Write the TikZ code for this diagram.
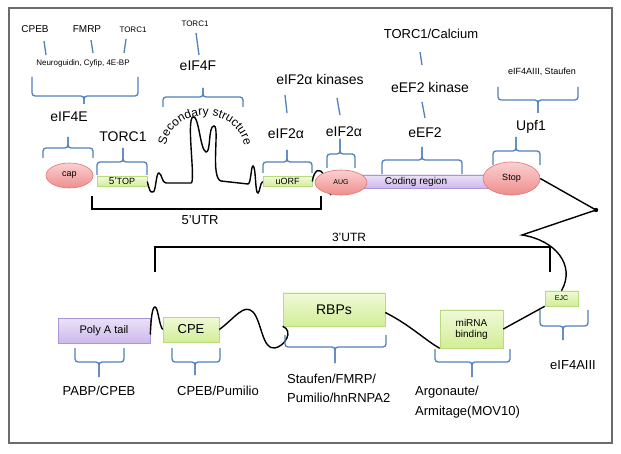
\documentclass[tikz,border=0pt]{standalone}
\usepackage{fontspec}
\setmainfont{Liberation Sans}
\usetikzlibrary{decorations.text,shapes.geometric}
\definecolor{bl}{HTML}{4F81BD}
\definecolor{gtop}{HTML}{F0F9D8}
\definecolor{gbot}{HTML}{D2EE96}
\definecolor{gdr}{HTML}{B9DA80}
\definecolor{ptop}{HTML}{EBE2F8}
\definecolor{pbot}{HTML}{CDB8EC}
\definecolor{pdr}{HTML}{AD95D9}
\definecolor{rtop}{HTML}{FBD0D0}
\definecolor{rbot}{HTML}{EE8E8E}
\definecolor{rdr}{HTML}{E07474}
\newcommand\fs[1]{\fontsize{#1}{#1}\selectfont}
\newcommand\mybrace[6]{%
  \draw[brace] (#1,#4) |- (#2,#5) -- (#2,#6);
  \draw[brace] (#3,#4) |- (#2,#5) -- (#2,#6);}
\begin{document}
\begin{tikzpicture}[x=1pt,y=-1pt,
  lbl/.style={inner sep=0pt},
  brace/.style={draw=bl,line width=1.3pt,rounded corners=3pt},
  tick/.style={draw=bl,line width=1.3pt},
  rna/.style={draw=black,line width=1.4pt},
  gbox/.style={draw=gdr,top color=gtop,bottom color=gbot,line width=0.6pt,inner sep=0pt},
  pbox/.style={draw=pdr,top color=ptop,bottom color=pbot,line width=0.6pt,inner sep=0pt},
  rell/.style={ellipse,draw=rdr,top color=rtop,bottom color=rbot,line width=0.6pt,inner sep=0pt}]
\useasboundingbox (0,0) rectangle (621,454);
\fill[white] (0,0) rectangle (621,454);
\draw[draw=gray!85!black,line width=1.2pt] (9,8) rectangle (612,443);

% ---------- top labels ----------
\node[lbl,font=\fs{10}] (cpeb) at (35,29) {CPEB};
\node[lbl,font=\fs{10}] (fmrp) at (87,29) {FMRP};
\node[lbl,font=\fs{8}] (torcA) at (133,30) {TORC1};
\node[lbl,font=\fs{8}] (neuro) at (83,63) {Neuroguidin, Cyfip, 4E-BP};
\draw[tick] (cpeb.center) ++(9,12) -- ++(2,14);
\draw[tick] (fmrp.center) ++(4,11) -- ++(2,13);
\draw[tick] (torcA.center) ++(-7,9) -- ++(-2,14);
\mybrace{32}{84}{138}{77}{96}{104}
\node[lbl,font=\fs{14}] (eif4e) at (69,117) {eIF4E};
\mybrace{43}{68}{93}{158}{148}{137}

\node[lbl,font=\fs{14}] (torcB) at (123,137) {TORC1};
\mybrace{97}{123}{147}{175}{162}{148}

\node[lbl,font=\fs{8}] (torcC) at (195,24) {TORC1};
\draw[tick] (torcC.center) ++(1,9) -- ++(3,22);
\node[lbl,font=\fs{14}] (eif4f) at (198,66) {eIF4F};
\mybrace{163}{203}{243}{107}{97}{88}

\node[lbl,font=\fs{14}] (kin) at (320,79) {eIF2α kinases};
\draw[tick] (kin.center) ++(-35,16) -- ++(2,18);
\draw[tick] (kin.center) ++(17,19) -- ++(3,17);
\node[lbl,font=\fs{14}] (eif2a) at (286,134) {eIF2α};
\mybrace{263}{287}{312}{173}{162}{150}
\node[lbl,font=\fs{14}] (eif2b) at (344,132) {eIF2α};
\mybrace{327}{340}{355}{168}{154}{139}

\node[lbl,font=\fs{13}] (calc) at (431,34) {TORC1/Calcium};
\draw[tick] (calc.center) ++(-11,18) -- ++(2,13);
\node[lbl,font=\fs{14}] (eefk) at (430,87) {eEF2 kinase};
\draw[tick] (eefk.center) ++(-8,15) -- ++(3,16);
\node[lbl,font=\fs{14}] (eef2) at (425,133) {eEF2};
\mybrace{382}{422}{462}{175}{160}{147}

\node[lbl,font=\fs{9}] (stau) at (542,72) {eIF4AIII, Staufen};
\mybrace{498}{538}{578}{87}{100}{113}
\node[lbl,font=\fs{14}] (upf) at (531,127) {Upf1};
\mybrace{493}{516}{540}{165}{151}{137}

% ---------- 5' part of mRNA ----------
\node[gbox,minimum width=50pt,minimum height=9.5pt,font=\fs{9}] (top) at (122,181.5) {\fs{10}5’\fs{9}TOP};
\node[gbox,minimum width=49pt,minimum height=10.5pt,font=\fs{9}] (uorf) at (287.5,181.5) {uORF};
\draw[rna] (top.east) .. controls (150,192) .. (153,192)
  .. controls (156,192) and (156,172) .. (159,173)
  .. controls (162,174) and (162,183) .. (166,183) -- (191,183)
  .. controls (196,183) and (186,119) .. (193,117)
  .. controls (199,115) and (200,150) .. (206,152)
  .. controls (211,153) and (208,126) .. (214,126)
  .. controls (220,126) and (210,178) .. (221,181) -- (248,184)
  .. controls (251,184) and (251,166) .. (253,166)
  .. controls (256,166) and (255,194) .. (258,193)
  .. controls (260,192) and (260,183) .. (uorf.west);
\path[decorate,decoration={text along path,text align=center,
  text={|\fs{12}|Secondary structure}}]
  (165,156) .. controls (163,102) and (247,102) .. (245,156);
\draw[rna] (uorf.east) .. controls (314,170) and (320,166) .. (324,176)
  .. controls (326,182) and (328,192) .. (331,195);
\node[pbox,minimum width=130pt,minimum height=13pt] (cod) at (425,181.5) {};
\node[lbl,font=\fs{10}] (codt) at (416,182) {Coding region};
\node[rell,minimum width=47pt,minimum height=25pt,font=\fs{9}] (cap) at (69.5,175.5) {cap};
\node[rell,minimum width=52pt,minimum height=25pt,font=\fs{7}] (aug) at (341,182.5) {AUG};
\node[rell,minimum width=57pt,minimum height=33pt,font=\fs{9}] (stop) at (511.5,178.5) {Stop};

% 5'UTR bracket
\coordinate (u5a) at (92,196);
\coordinate (u5b) at (321,196);
\draw[rna] (u5a) -- (92,209) -- (321,209) -- (u5b);
\node[lbl,font=\fs{13}] (utr5) at (200,220) {5’UTR};

% ---------- 3' part ----------
\coordinate (dot) at (596,210);
\coordinate (bend) at (522,235);
\node[gbox,minimum width=33pt,minimum height=15pt,font=\fs{7}] (ejc) at (561.5,298.5) {EJC};
\draw[rna] (stop.east) -- (dot) -- (bend)
  .. controls (555,240) and (576,265) .. (ejc.north);
\fill (dot) circle (2.2);

\coordinate (u3a) at (155,272);
\coordinate (u3b) at (550,272);
\draw[rna] (u3a) -- (155,247) -- (550,247) -- (u3b);
\node[lbl,font=\fs{12}] (utr3) at (349,237) {3’UTR};

\node[pbox,minimum width=92pt,minimum height=25pt,font=\fs{11}] (poly) at (104,330.5) {Poly A tail};
\node[gbox,minimum width=56pt,minimum height=25pt,font=\fs{13}] (cpe) at (191,329.5) {CPE};
\node[gbox,minimum width=102pt,minimum height=33pt,font=\fs{14}] (rbp) at (334,309.5) {RBPs};
\node[gbox,minimum width=63pt,minimum height=38pt,font=\fs{10},align=center] (mir) at (471.5,329) {miRNA\\[1pt]binding};

\draw[rna] (poly.east) ++(0,4) .. controls (151,320) and (152,307) .. (155,307)
  .. controls (158,307) and (159,325) .. (cpe.west);
\draw[rna] (cpe.east) .. controls (235,318) and (244,303) .. (253,312)
  .. controls (262,322) and (262,350) .. (275,348)
  .. controls (285,346) and (294,331) .. (rbp.south west) ++(17,0);
\draw[rna] (rbp.east) ++(0,3) .. controls (410,325) and (425,340) .. (mir.south west) ++(0,-8);
\draw[rna] (mir.east) -- (ejc.south west);

\mybrace{75}{99}{124}{348}{362}{377}
\mybrace{172}{195}{220}{348}{362}{375}
\mybrace{285}{335}{386}{335}{347}{363}
\mybrace{435}{472}{510}{349}{362}{377}
\mybrace{540}{563}{588}{310}{326}{340}

\node[lbl,font=\fs{13}] (pabp) at (99,391) {PABP/CPEB};
\node[lbl,font=\fs{13}] (cpebp) at (218,391) {CPEB/Pumilio};
\node[lbl,font=\fs{13},anchor=west] (st1) at (287,379) {Staufen/FMRP/};
\node[lbl,font=\fs{13},anchor=west] (st2) at (287,398) {Pumilio/hnRNPA2};
\node[lbl,font=\fs{13},anchor=west] (ar1) at (415,392) {Argonaute/};
\node[lbl,font=\fs{13},anchor=west] (ar2) at (415,412) {Armitage(MOV10)};
\node[lbl,font=\fs{13}] (e4a) at (573,365) {eIF4AIII};
\end{tikzpicture}
\end{document}
